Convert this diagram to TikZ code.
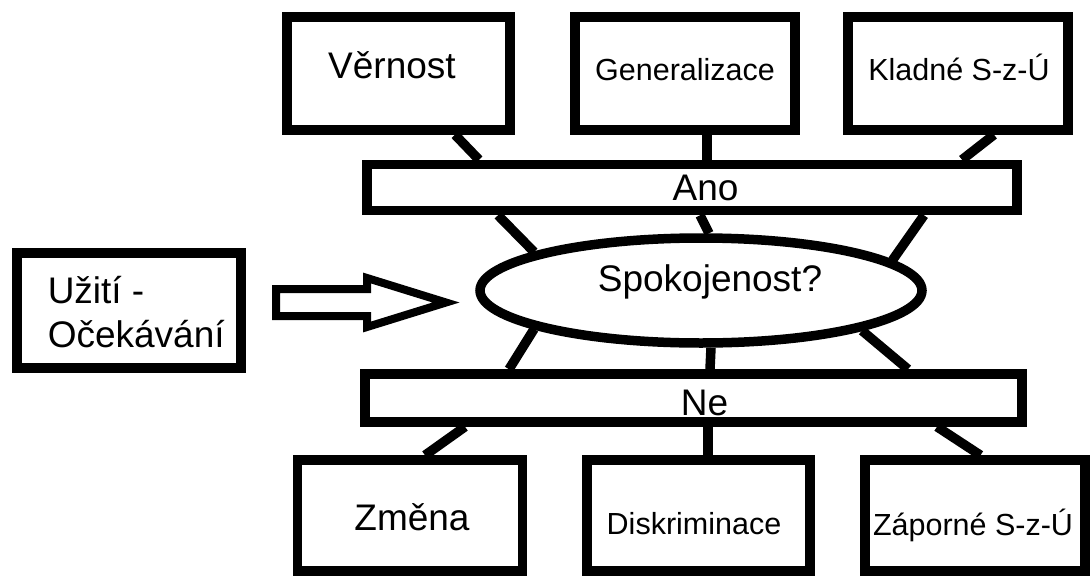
\documentclass[tikz,border=0pt]{standalone}
\usepackage{fontspec}
\setmainfont{Liberation Sans}
\usetikzlibrary{shapes.geometric}
\begin{document}
\begin{tikzpicture}[x=1pt,y=-1pt,line width=9.5pt,
  box/.style={draw,rectangle,fill=white,inner sep=0pt},
  bar/.style={box,minimum height=46pt},
  big/.style={anchor=base,inner sep=0pt,font=\fontsize{37}{44}\selectfont},
  small/.style={anchor=base,inner sep=0pt,font=\fontsize{30.5}{36}\selectfont}]
\useasboundingbox (0,0) rectangle (1090,576);
\clip (0,0) rectangle (1090,576);
% top row
\node[box,minimum width=223pt,minimum height=113pt] (ver) at (398.5,73.5) {};
\node[box,minimum width=220pt,minimum height=113pt] (gen) at (685,73.5) {};
\node[box,minimum width=220pt,minimum height=113pt] (kla) at (958,73.5) {};
% bars and ellipse
\node[bar,minimum width=650pt] (ano) at (692,187.5) {};
\node[bar,minimum width=657pt,minimum height=48pt] (ne) at (693.5,398) {};
\node[draw,ellipse,fill=white,inner sep=0pt,minimum width=442pt,minimum height=105pt] (sat) at (701,290.5) {};
% bottom row
\node[box,minimum width=225pt,minimum height=111pt] (zme) at (410,515.5) {};
\node[box,minimum width=223pt,minimum height=111pt] (dis) at (698.5,515.5) {};
\node[box,minimum width=220pt,minimum height=111pt] (zap) at (975,515.5) {};
% left
\node[box,minimum width=224pt,minimum height=115pt] (uzi) at (129,310.5) {};
%\draw (uzi) -- (sat);
\draw[line width=8pt,line join=miter] (276,289) -- (367,289) -- (367,278) -- (446,302.5) -- (367,327) -- (367,316) -- (276,316) -- cycle;
% connectors
\draw ([xshift=56.5pt]ver.south) -- ([xshift=-213pt]ano.north);
\draw ([xshift=22pt]gen.south) -- ([xshift=15pt]ano.north);
\draw ([xshift=36pt]kla.south) -- ([xshift=270pt]ano.north);
\draw ([xshift=-194pt]ano.south) -- (sat.167.3);
\draw ([xshift=8pt]ano.south) -- ([xshift=8pt]sat.north);
\draw ([xshift=232pt]ano.south) -- (sat.9.2);
\draw (sat.193.3) -- ([xshift=-184.5pt]ne.north);
\draw ([xshift=10pt]sat.south) -- ([xshift=16.5pt]ne.north);
\draw (sat.-14.1) -- ([xshift=214.5pt]ne.north);
\draw ([xshift=-228.5pt]ne.south) -- ([xshift=15pt]zme.north);
\draw ([xshift=14.5pt]ne.south) -- ([xshift=9.5pt]dis.north);
\draw ([xshift=243.5pt]ne.south) -- ([xshift=5.5pt]zap.north);
% texts
\node[big] (tver) at (392,78) {Věrnost};
\node[small] (tgen) at (685,80.5) {Generalizace};
\node[small] (tkla) at (959,80.5) {Kladné S-z-Ú};
\node[big] (tano) at (705.5,200) {Ano};
\node[big] (tsat) at (710,291) {Spokojenost?};
\node[big] (tne) at (704.5,415) {Ne};
\node[big] (tzme) at (412,530) {Změna};
\node[small] (tdis) at (694,534) {Diskriminace};
\node[small] (tzap) at (973,535) {Záporné S-z-Ú};
\node[big,anchor=base west] (tuzi) at (43,303) {Užití -};
\node[big,anchor=base west] (toce) at (43,347) {Očekávání};
\end{tikzpicture}
\end{document}
